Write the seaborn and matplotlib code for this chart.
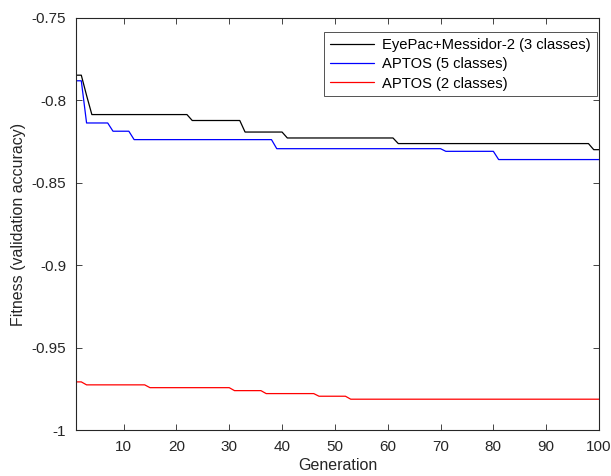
import numpy as np
import pandas as pd
import matplotlib
matplotlib.use("Agg")
import matplotlib.pyplot as plt
import seaborn as sns

# Best fitness per generation, stored as (first generation, value) change points
generations = np.arange(1, 101)

eyepac_start = [1, 3, 4, 23, 33, 41, 62, 99]
eyepac_level = [-0.7847, -0.7970, -0.8086, -0.8122, -0.8192, -0.8228, -0.8262, -0.8299]

aptos5_start = [1, 3, 8, 12, 39, 71, 81]
aptos5_level = [-0.7881, -0.8137, -0.8187, -0.8238, -0.8293, -0.8309, -0.8359]

aptos2_start = [1, 3, 15, 31, 37, 47, 53]
aptos2_level = [-0.9708, -0.9726, -0.9743, -0.9761, -0.9779, -0.9795, -0.9813]

series_names = ["EyePac+Messidor-2 (3 classes)", "APTOS (5 classes)", "APTOS (2 classes)"]
series_colors = ["#000000", "#0000ff", "#ff0000"]

x_ticks = [10, 20, 30, 40, 50, 60, 70, 80, 90, 100]
y_ticks = [-1, -0.95, -0.9, -0.85, -0.8, -0.75]
y_tick_labels = ["-1", "-0.95", "-0.9", "-0.85", "-0.8", "-0.75"]


def per_generation(starts, levels):
    bounds = list(starts[1:]) + [generations[-1] + 1]
    counts = [b - s for s, b in zip(starts, bounds)]
    return np.repeat(levels, counts)


frames = []
for name, starts, levels in zip(series_names,
                                [eyepac_start, aptos5_start, aptos2_start],
                                [eyepac_level, aptos5_level, aptos2_level]):
    frames.append(pd.DataFrame({"Generation": generations,
                                "Fitness": per_generation(starts, levels),
                                "Dataset": name}))
df = pd.concat(frames, ignore_index=True)

sns.set_style("white")
plt.rcParams["font.family"] = ["Liberation Sans", "DejaVu Sans"]

fig = plt.figure(figsize=(6.11, 4.76), dpi=100)
ax = fig.add_axes([0.1244, 0.0966, 0.9804 - 0.1244, 0.9622 - 0.0966])

sns.lineplot(data=df, x="Generation", y="Fitness", hue="Dataset",
             hue_order=series_names, palette=series_colors,
             linewidth=0.9, ax=ax)

axis_color = "#262626"
ax.set_xlim(1, 100)
ax.set_ylim(-1, -0.75)
ax.set_xticks(x_ticks)
ax.set_xticklabels([str(t) for t in x_ticks])
ax.set_yticks(y_ticks)
ax.set_yticklabels(y_tick_labels)
ax.tick_params(direction="in", length=4, width=0.6, colors=axis_color,
               labelsize=11, top=True, right=True, bottom=True, left=True,
               pad=7)
for side in ax.spines.values():
    side.set_color(axis_color)
    side.set_linewidth(0.8)

ax.set_xlabel("Generation", fontsize=11.5, color=axis_color, labelpad=3)
ax.set_ylabel("Fitness (validation accuracy)", fontsize=11.5, color=axis_color,
              labelpad=4)

leg = ax.legend(loc="upper right", bbox_to_anchor=(0.9955, 0.965),
                frameon=True, fancybox=False, edgecolor=axis_color,
                fontsize=10.6, handlelength=3.0, handletextpad=0.55,
                borderpad=0.4, labelspacing=0.35, borderaxespad=0.0)
leg.get_frame().set_linewidth(0.7)
for text in leg.get_texts():
    text.set_color("#000000")

fig.savefig("out.png", dpi=100)
